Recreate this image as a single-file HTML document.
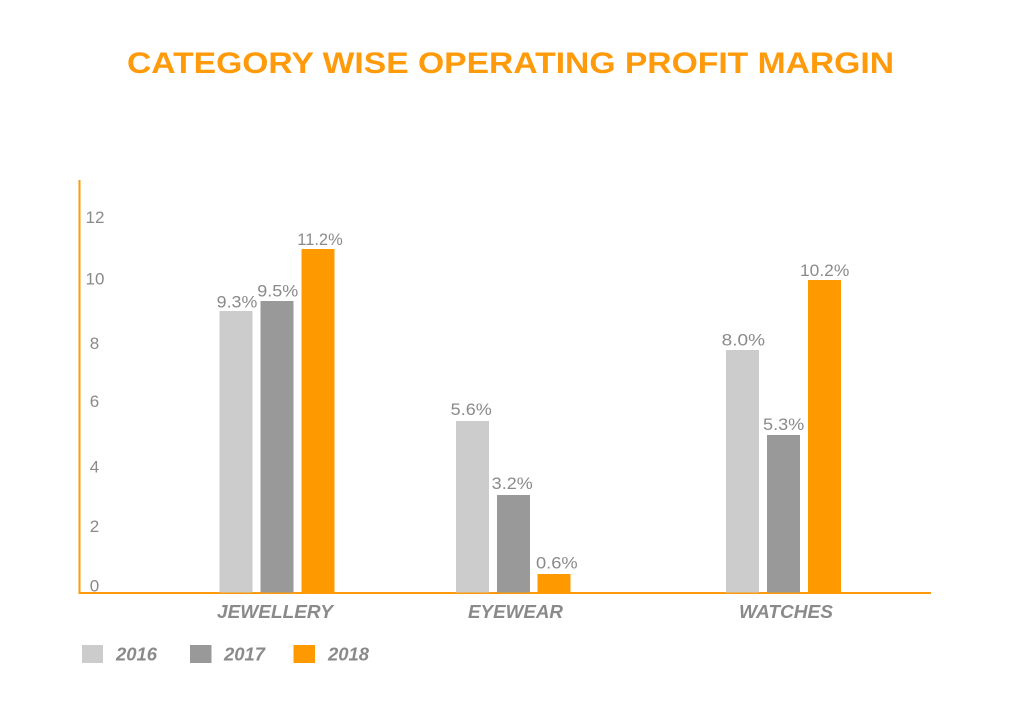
<!DOCTYPE html>
<html>
<head>
<meta charset="utf-8">
<style>
  html,body{margin:0;padding:0;background:#fff;}
  svg{display:block;}
  text{font-family:"Liberation Sans", sans-serif;}
</style>
</head>
<body>
<svg width="1024" height="701" viewBox="0 0 1024 701" xmlns="http://www.w3.org/2000/svg">
  <rect width="1024" height="701" fill="#fff"/>
  <!-- Title -->
  <text x="127" y="73" font-size="30" font-weight="bold" fill="#FF9A0A" textLength="767" lengthAdjust="spacingAndGlyphs">CATEGORY WISE OPERATING PROFIT MARGIN</text>

  <!-- Axes -->
  <line x1="79.5" y1="180" x2="79.5" y2="594" stroke="#FF9A0A" stroke-width="2"/>
  <line x1="78.5" y1="593" x2="931" y2="593" stroke="#FF9A0A" stroke-width="2"/>

  <!-- Y tick labels -->
  <g font-size="17" fill="#8a8a8a" text-anchor="middle">
    <text x="95" y="223">12</text>
    <text x="95" y="284.5">10</text>
    <text x="94.5" y="349">8</text>
    <text x="94.5" y="407">6</text>
    <text x="94.5" y="472.5">4</text>
    <text x="94.5" y="532">2</text>
    <text x="94.5" y="591.5">0</text>
  </g>

  <!-- Bars: Jewellery -->
  <rect x="219.5" y="311" width="33" height="281.5" fill="#CCCCCC"/>
  <rect x="260.5" y="301" width="33" height="291.5" fill="#999999"/>
  <rect x="301.5" y="249" width="33" height="343.5" fill="#FF9900"/>
  <!-- Eyewear -->
  <rect x="456" y="421" width="33" height="171.5" fill="#CCCCCC"/>
  <rect x="497" y="495" width="33" height="97.5" fill="#999999"/>
  <rect x="537.5" y="574" width="33" height="18.5" fill="#FF9900"/>
  <!-- Watches -->
  <rect x="726" y="350" width="33" height="242.5" fill="#CCCCCC"/>
  <rect x="767" y="435" width="33" height="157.5" fill="#999999"/>
  <rect x="808" y="280" width="33" height="312.5" fill="#FF9900"/>

  <!-- Value labels -->
  <g font-size="17" fill="#8a8a8a">
    <text x="216.7" y="307.5" textLength="40.6" lengthAdjust="spacingAndGlyphs">9.3%</text>
    <text x="257.3" y="296.5" textLength="41" lengthAdjust="spacingAndGlyphs">9.5%</text>
    <text x="297.3" y="245" textLength="45.4" lengthAdjust="spacingAndGlyphs">11.2%</text>
    <text x="450.7" y="415" textLength="41" lengthAdjust="spacingAndGlyphs">5.6%</text>
    <text x="491.7" y="489" textLength="41" lengthAdjust="spacingAndGlyphs">3.2%</text>
    <text x="536" y="568.5" textLength="41.7" lengthAdjust="spacingAndGlyphs">0.6%</text>
    <text x="721.7" y="345.7" textLength="43.3" lengthAdjust="spacingAndGlyphs">8.0%</text>
    <text x="763" y="430" textLength="41.3" lengthAdjust="spacingAndGlyphs">5.3%</text>
    <text x="800" y="276" textLength="49.3" lengthAdjust="spacingAndGlyphs">10.2%</text>
  </g>

  <!-- Category labels -->
  <g font-size="18" font-weight="bold" font-style="italic" fill="#8a8a8a">
    <text x="217" y="618" textLength="116" lengthAdjust="spacingAndGlyphs">JEWELLERY</text>
    <text x="468" y="618" textLength="95" lengthAdjust="spacingAndGlyphs">EYEWEAR</text>
    <text x="739" y="618" textLength="94" lengthAdjust="spacingAndGlyphs">WATCHES</text>
  </g>

  <!-- Legend -->
  <rect x="82" y="645" width="21" height="18" fill="#CCCCCC"/>
  <rect x="190" y="645" width="21.5" height="18" fill="#999999"/>
  <rect x="293.5" y="645" width="21.5" height="18" fill="#FF9900"/>
  <g font-size="18" font-weight="bold" font-style="italic" fill="#8a8a8a">
    <text x="116" y="660.5" textLength="41" lengthAdjust="spacingAndGlyphs">2016</text>
    <text x="224" y="660.5" textLength="41" lengthAdjust="spacingAndGlyphs">2017</text>
    <text x="328" y="660.5" textLength="41" lengthAdjust="spacingAndGlyphs">2018</text>
  </g>
</svg>
</body>
</html>
